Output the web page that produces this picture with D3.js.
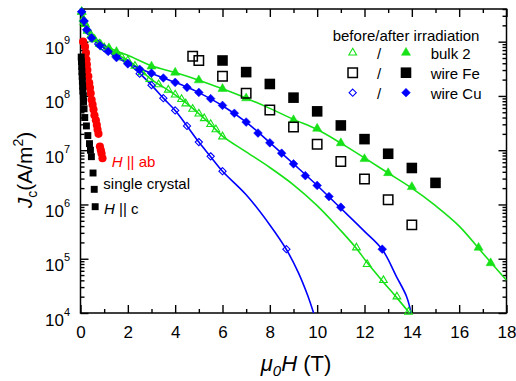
<!DOCTYPE html>
<html>
<head>
<meta charset="utf-8">
<script src="https://cdn.jsdelivr.net/npm/d3@7"></script>
<style>
  body { margin: 0; background: #fff; }
  svg { display: block; }
  text { font-family: "Liberation Sans", Arial, Helvetica, sans-serif; }
</style>
</head>
<body>
<svg id="chart" width="516" height="381"></svg>
<script>
// ---- measured points: field mu0H (T) and critical current density Jc (A/m^2) ----
const bulk2BeforeH  = [0.05, 0.12, 0.2, 0.3, 0.45, 0.6, 0.8, 1.0, 1.25, 1.5, 1.75, 2.0, 2.3, 2.6, 2.93, 3.3, 3.71, 4.0, 4.27, 4.45, 4.74, 5.0, 5.23, 5.5, 5.72, 6.0, 11.66, 12.11, 12.8, 13.37, 13.86];
const bulk2BeforeJc = [3.55e9, 2.63e9, 2.09e9, 1.66e9, 1.32e9, 1.1e9, 9.1e8, 7.8e8, 6.8e8, 5.9e8, 5.1e8, 4.5e8, 3.55e8, 2.7e8, 2.04e8, 1.62e8, 1.29e8, 1.05e8, 8.7e7, 7.2e7, 5.75e7, 4.7e7, 3.85e7, 3.0e7, 2.4e7, 1.78e7, 1.6e5, 7.9e4, 4.0e4, 2.0e4, 1.05e4];

const bulk2AfterH  = [0.05, 0.15, 0.3, 0.55, 0.85, 1.2, 1.52, 3.0, 4.0, 5.0, 6.0, 7.0, 9.0, 10.0, 11.0, 12.0, 13.0, 14.0, 16.82, 17.33];
const bulk2AfterJc = [3.55e9, 2.29e9, 1.58e9, 1.12e9, 8.9e8, 7.6e8, 6.5e8, 3.5e8, 2.7e8, 1.95e8, 1.35e8, 9.1e7, 3.6e7, 2.5e7, 1.35e7, 6.9e6, 3.8e6, 2.1e6, 1.6e5, 8.3e4];

const wireFeBeforeH  = [4.74, 5.0, 6, 7, 8, 9, 10, 11, 12, 13, 14];
const wireFeBeforeJc = [5.4e8, 4.5e8, 2.3e8, 1.12e8, 5.5e7, 2.67e7, 1.29e7, 6.2e6, 2.95e6, 1.22e6, 4.2e5];

const wireFeAfterH  = [6, 7, 8, 9, 10, 11, 12, 13, 14, 15];
const wireFeAfterJc = [4.5e8, 2.75e8, 1.66e8, 9.3e7, 5.2e7, 2.86e7, 1.6e7, 8.6e6, 4.7e6, 2.5e6];

const wireCuBeforeH  = [0.05, 0.15, 0.3, 0.5, 0.75, 1.0, 1.5, 2.0, 2.5, 3.0, 3.5, 4.0, 4.5, 5.0, 5.5, 6.0, 8.7];
const wireCuBeforeJc = [3.55e9, 2.4e9, 1.58e9, 1.15e9, 9.1e8, 7.6e8, 5.5e8, 4.0e8, 2.57e8, 1.58e8, 9.1e7, 5.4e7, 2.8e7, 1.41e7, 7.7e6, 4.1e6, 1.5e5];

const wireCuAfterH  = [0.05, 0.15, 0.26, 0.47, 0.82, 1.17, 1.52, 2.0, 2.5, 3.0, 3.5, 4.0, 4.5, 5.0, 5.5, 6.0, 6.5, 7.0, 7.5, 8.0, 8.5, 9.0, 9.5, 10.0, 10.5, 11.0, 12.75];
const wireCuAfterJc = [3.55e9, 2.4e9, 1.66e9, 1.17e9, 8.5e8, 6.6e8, 5.1e8, 3.9e8, 3.1e8, 2.63e8, 2.14e8, 1.78e8, 1.44e8, 1.16e8, 8.9e7, 6.7e7, 4.8e7, 3.3e7, 2.07e7, 1.37e7, 8.8e6, 5.6e6, 3.4e6, 2.24e6, 1.4e6, 8.9e5, 1.5e5];

const crystalAbH  = [0.11, 0.19, 0.23, 0.25, 0.27, 0.29, 0.33, 0.37, 0.40, 0.43, 0.47, 0.51, 0.55, 0.59, 0.65, 0.69, 0.72, 0.76, 0.82, 0.86, 0.89, 0.93];
const crystalAbJc = [1.0e9, 8.1e8, 6.2e8, 4.7e8, 3.8e8, 3.0e8, 2.3e8, 1.74e8, 1.41e8, 1.12e8, 8.5e7, 6.9e7, 5.6e7, 4.4e7, 3.55e7, 2.9e7, 2.4e7, 2.0e7, 1.17e7, 1.0e7, 8.7e6, 7.1e6];

const crystalCH  = [0.03, 0.04, 0.05, 0.06, 0.07, 0.08, 0.09, 0.10, 0.12, 0.13, 0.15, 0.18, 0.25, 0.31, 0.38, 0.42, 0.46, 0.53, 0.58, 0.62];
const crystalCJc = [5.2e8, 4.3e8, 3.5e8, 2.8e8, 2.3e8, 1.86e8, 1.51e8, 1.23e8, 1.0e8, 7.9e7, 5.8e7, 4.0e7, 2.8e7, 1.86e7, 1.32e7, 1.0e7, 7.6e6, 3.8e6, 1.9e6, 9.1e5];

// ---- fitted curves ----
const bulk2BeforeFitH  = [0.03, 0.1, 0.25, 0.5, 1.0, 1.5, 2, 2.5, 3, 3.5, 4, 4.5, 5, 5.5, 6, 7, 8, 9, 10, 11, 11.66, 12.11, 12.8, 13.37, 13.9];
const bulk2BeforeFitJc = [4.2e9, 2.6e9, 1.66e9, 1.15e9, 7.8e8, 5.9e8, 4.5e8, 3.1e8, 2.0e8, 1.45e8, 1.05e8, 7.2e7, 4.7e7, 3.0e7, 1.82e7, 9.3e6, 4.8e6, 2.3e6, 9.5e5, 3.3e5, 1.55e5, 8.5e4, 3.7e4, 1.9e4, 1.0e4];

const bulk2AfterFitH  = [0.03, 0.1, 0.25, 0.5, 1.0, 1.5, 2, 3, 4, 5, 6, 7, 8, 9, 10, 11, 12, 13, 14, 15, 16, 17, 18];
const bulk2AfterFitJc = [4.2e9, 2.8e9, 1.78e9, 1.2e9, 8.5e8, 6.8e8, 5.6e8, 3.6e8, 2.7e8, 1.95e8, 1.35e8, 9.1e7, 5.9e7, 3.7e7, 2.4e7, 1.35e7, 7.2e6, 3.8e6, 2.0e6, 9.5e5, 4.0e5, 1.26e5, 4.0e4];

const wireCuBeforeFitH  = [0.03, 0.1, 0.25, 0.5, 1.0, 1.5, 2, 2.5, 3, 3.5, 4, 4.5, 5, 5.5, 6, 7, 8, 8.7, 9.2, 9.6, 9.85];
const wireCuBeforeFitJc = [4.2e9, 2.6e9, 1.66e9, 1.15e9, 7.6e8, 5.5e8, 4.0e8, 2.6e8, 1.58e8, 9.1e7, 5.4e7, 2.8e7, 1.41e7, 7.6e6, 4.1e6, 1.51e6, 4.2e5, 1.48e5, 5.6e4, 2.1e4, 1.0e4];

const wireCuAfterFitH  = [0.03, 0.1, 0.25, 0.5, 1.0, 1.5, 2, 2.5, 3, 3.5, 4, 4.5, 5, 6, 7, 8, 9, 10, 11, 12, 12.75, 13.35, 13.78, 13.97];
const wireCuAfterFitJc = [4.2e9, 2.6e9, 1.66e9, 1.15e9, 7.6e8, 5.2e8, 4.0e8, 3.2e8, 2.6e8, 2.15e8, 1.78e8, 1.45e8, 1.15e8, 6.6e7, 3.3e7, 1.38e7, 5.6e6, 2.24e6, 8.5e5, 3.2e5, 1.48e5, 4.7e4, 2.0e4, 1.0e4];

// ---- axes ----
const xDomain = [0, 18];
const yDomain = [1e4, 4e9];
const xMajorTicks = [0, 2, 4, 6, 8, 10, 12, 14, 16, 18];
const yDecades = [1e4, 1e5, 1e6, 1e7, 1e8, 1e9];

const GREEN = "#17e117", BLUE = "#0000ff", RED = "#ff0000", BLACK = "#000";

const svg = d3.select("#chart");
const plotLeft = 80.5, plotRight = 506.5, plotTop = 9, plotBottom = 313;

const x = d3.scaleLinear().domain(xDomain).range([plotLeft, plotRight]);
const y = d3.scaleLog().domain(yDomain).range([plotBottom, plotTop]);

const xMinorTicks = d3.range(1, 18, 2);
const yMinorTicks = [];
yDecades.forEach(d => { for (let m = 2; m <= 9; m++) { const v = m * d; if (v <= yDomain[1]) yMinorTicks.push(v); } });

svg.append("clipPath").attr("id", "plotArea")
  .append("rect").attr("x", plotLeft).attr("y", plotTop).attr("width", plotRight - plotLeft).attr("height", plotBottom - plotTop);

function styleAxis(g) {
  g.select(".domain").remove();
  g.selectAll(".tick line").attr("stroke", BLACK).attr("stroke-width", 1.4);
}

// bottom axis with labels
svg.append("g").attr("transform", `translate(0,${plotBottom})`)
  .call(d3.axisBottom(x).tickValues(xMajorTicks).tickSizeInner(-8).tickSizeOuter(0).tickPadding(13).tickFormat(d3.format("d")))
  .call(styleAxis)
  .call(g => g.selectAll("text").attr("font-size", 17).attr("fill", BLACK).attr("font-family", "Liberation Sans, Arial, sans-serif"));
svg.append("g").attr("transform", `translate(0,${plotBottom})`)
  .call(d3.axisBottom(x).tickValues(xMinorTicks).tickSizeInner(-4).tickSizeOuter(0).tickFormat(""))
  .call(styleAxis);
// top axis
svg.append("g").attr("transform", `translate(0,${plotTop})`)
  .call(d3.axisTop(x).tickValues(xMajorTicks).tickSizeInner(-8).tickSizeOuter(0).tickFormat(""))
  .call(styleAxis);
svg.append("g").attr("transform", `translate(0,${plotTop})`)
  .call(d3.axisTop(x).tickValues(xMinorTicks).tickSizeInner(-4).tickSizeOuter(0).tickFormat(""))
  .call(styleAxis);

// left axis with power-of-ten labels
svg.append("g").attr("transform", `translate(${plotLeft},0)`)
  .call(d3.axisLeft(y).tickValues(yDecades).tickSizeInner(-8).tickSizeOuter(0).tickFormat(""))
  .call(styleAxis)
  .call(g => g.selectAll(".tick").each(function (d) {
    const t = d3.select(this).append("text")
      .attr("x", -10.5).attr("y", 12).attr("text-anchor", "end")
      .attr("font-size", 17).attr("fill", BLACK);
    t.append("tspan").text("10");
    t.append("tspan").attr("dy", -10).attr("font-size", 11).text(Math.round(Math.log10(d)));
  }));
svg.append("g").attr("transform", `translate(${plotLeft},0)`)
  .call(d3.axisLeft(y).tickValues(yMinorTicks).tickSizeInner(-4).tickSizeOuter(0).tickFormat(""))
  .call(styleAxis);
// right axis
svg.append("g").attr("transform", `translate(${plotRight},0)`)
  .call(d3.axisRight(y).tickValues(yDecades).tickSizeInner(-8).tickSizeOuter(0).tickFormat(""))
  .call(styleAxis);
svg.append("g").attr("transform", `translate(${plotRight},0)`)
  .call(d3.axisRight(y).tickValues(yMinorTicks).tickSizeInner(-4).tickSizeOuter(0).tickFormat(""))
  .call(styleAxis);

// frame
svg.append("rect").attr("x", plotLeft).attr("y", plotTop).attr("width", plotRight - plotLeft).attr("height", plotBottom - plotTop)
  .attr("fill", "none").attr("stroke", BLACK).attr("stroke-width", 1.5);

// ---- fit curves ----
const curve = d3.line().x(d => x(d[0])).y(d => y(d[1])).curve(d3.curveCatmullRom.alpha(0.5));
function drawFit(hs, js, color) {
  svg.append("path").attr("clip-path", "url(#plotArea)")
    .attr("d", curve(d3.zip(hs, js)))
    .attr("fill", "none").attr("stroke", color).attr("stroke-width", 1.6);
}
drawFit(bulk2BeforeFitH, bulk2BeforeFitJc, GREEN);
drawFit(bulk2AfterFitH, bulk2AfterFitJc, GREEN);
drawFit(wireCuBeforeFitH, wireCuBeforeFitJc, BLUE);
drawFit(wireCuAfterFitH, wireCuAfterFitJc, BLUE);

// ---- markers ----
const diamond = {
  draw(ctx, size) {
    const r = Math.sqrt(size / 2);
    ctx.moveTo(0, -r); ctx.lineTo(r, 0); ctx.lineTo(0, r); ctx.lineTo(-r, 0); ctx.closePath();
  }
};
function drawMarkers(g, hs, js, type, size, fill, stroke, sw) {
  g.selectAll(null).data(d3.zip(hs, js)).join("path")
    .attr("transform", d => `translate(${x(d[0])},${y(d[1])})`)
    .attr("d", d3.symbol().type(type).size(size))
    .attr("fill", fill).attr("stroke", stroke).attr("stroke-width", sw);
}
const marks = svg.append("g");
drawMarkers(marks, bulk2BeforeH, bulk2BeforeJc, d3.symbolTriangle, 26, "none", GREEN, 1.1);
drawMarkers(marks, wireCuBeforeH, wireCuBeforeJc, diamond, 26, "none", BLUE, 1.1);
drawMarkers(marks, bulk2AfterH, bulk2AfterJc, d3.symbolTriangle, 36, GREEN, GREEN, 0.5);
drawMarkers(marks, wireCuAfterH, wireCuAfterJc, diamond, 38, BLUE, BLUE, 0.5);
drawMarkers(marks, wireFeBeforeH, wireFeBeforeJc, d3.symbolSquare, 88, "none", BLACK, 1.5);
drawMarkers(marks, wireFeAfterH, wireFeAfterJc, d3.symbolSquare, 112, BLACK, BLACK, 0);
drawMarkers(marks, crystalAbH, crystalAbJc, d3.symbolCircle, 52, RED, RED, 0);
drawMarkers(marks, crystalCH, crystalCJc, d3.symbolSquare, 48, BLACK, BLACK, 0);

// ---- legend ----
const legend = svg.append("g").attr("font-size", 15).attr("fill", BLACK);
legend.append("text").attr("x", 332.7).attr("y", 40.5).text("before/after irradiation");
const legendRows = [
  { label: "bulk 2",  y: 52.7, type: d3.symbolTriangle, open: [26, "none", GREEN, 1.1], full: [36, GREEN, GREEN, 0.5] },
  { label: "wire Fe", y: 72.7, type: d3.symbolSquare,   open: [88, "none", BLACK, 1.5], full: [112, BLACK, BLACK, 0] },
  { label: "wire Cu", y: 92.7, type: diamond,           open: [26, "none", BLUE, 1.1],  full: [38, BLUE, BLUE, 0.5] }
];
legendRows.forEach(r => {
  const g = legend.append("g");
  g.append("path").attr("transform", `translate(352.7,${r.y})`)
    .attr("d", d3.symbol().type(r.type).size(r.open[0]))
    .attr("fill", r.open[1]).attr("stroke", r.open[2]).attr("stroke-width", r.open[3]);
  g.append("text").attr("x", 379).attr("y", r.y + 6.5).attr("text-anchor", "middle").text("/");
  g.append("path").attr("transform", `translate(406,${r.y})`)
    .attr("d", d3.symbol().type(r.type).size(r.full[0]))
    .attr("fill", r.full[1]).attr("stroke", r.full[2]).attr("stroke-width", r.full[3]);
  g.append("text").attr("x", 430.7).attr("y", r.y + 6.5).text(r.label);
});

// ---- single crystal annotations ----
const ab = svg.append("text").attr("x", 111.7).attr("y", 166.5).attr("font-size", 15).attr("fill", RED);
ab.append("tspan").attr("font-style", "italic").text("H");
ab.append("tspan").text(" || ab");
svg.append("text").attr("x", 103.3).attr("y", 188.5).attr("font-size", 15).attr("fill", BLACK).text("single crystal");
const cc = svg.append("text").attr("x", 104).attr("y", 213.5).attr("font-size", 15).attr("fill", BLACK);
cc.append("tspan").attr("font-style", "italic").text("H");
cc.append("tspan").text(" || c");

// ---- axis titles ----
const xt = svg.append("text").attr("x", 296).attr("y", 371).attr("text-anchor", "middle").attr("font-size", 22).attr("fill", BLACK);
xt.append("tspan").attr("font-style", "italic").text("\u03bc");
xt.append("tspan").attr("font-style", "italic").attr("font-size", 15).attr("dy", 5).text("0");
xt.append("tspan").attr("font-style", "italic").attr("dy", -5).text("H");
xt.append("tspan").text(" (T)");

const yt = svg.append("text").attr("transform", "translate(32,170) rotate(-90)")
  .attr("text-anchor", "middle").attr("font-size", 21).attr("fill", BLACK);
yt.append("tspan").attr("font-style", "italic").text("J");
yt.append("tspan").attr("font-size", 14).attr("dy", 5).text("c");
yt.append("tspan").attr("dy", -5).text("(A/m");
yt.append("tspan").attr("font-size", 14).attr("dy", -9).text("2");
yt.append("tspan").attr("dy", 9).text(")");
</script>
</body>
</html>
